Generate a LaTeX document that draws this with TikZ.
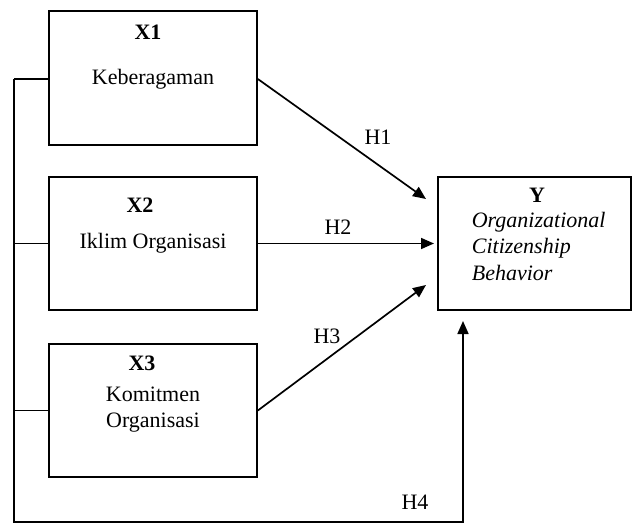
\documentclass[tikz,border=0pt]{standalone}
\usepackage{fontspec}
\setmainfont{Liberation Serif}
\usetikzlibrary{arrows.meta}
\begin{document}
\begin{tikzpicture}[x=1pt,y=-1pt,
  line width=1.7pt,
  varbox/.style={draw, rectangle, minimum width=208pt, minimum height=133pt, inner sep=0pt},
  txt/.style={inner sep=0pt, font=\fontsize{22}{26}\selectfont},
  bold/.style={txt, font=\fontsize{22}{26}\selectfont\bfseries},
  harrow/.style={-{Triangle[length=13pt,width=11pt]}}
]
\useasboundingbox (0,0) rectangle (633,523);
% boxes
\node[varbox, minimum height=134pt] (x1) at (153,78) {};
\node[varbox] (x2) at (153,243.5) {};
\node[varbox] (x3) at (153,410.5) {};
\node[varbox, minimum width=193pt] (y) at (534.5,243.5) {};
% texts
\node[bold] (x1t) at (148,32) {X1};
\node[txt] (x1n) at (153,79) {Keberagaman};
\node[bold] (x2t) at (140,205) {X2};
\node[txt] (x2n) at (153,243) {Iklim Organisasi};
\node[bold] (x3t) at (142,363) {X3};
\node[txt, align=center] (x3n) at (153,410) {Komitmen\\Organisasi};
\node[bold] (yt) at (537,195) {Y};
\node[txt, align=left, anchor=west, font=\fontsize{22}{26.5}\selectfont\itshape] (yn) at (471,246) {Organizational\\Citizenship\\Behavior};
% arrow end points
\coordinate (e1) at (426,199);
\coordinate (e2) at (434,243.5);
\coordinate (e3) at (426,285);
\coordinate (e4) at (463,321);
\coordinate (lt) at (14,79);
\coordinate (lm) at (14,243.5);
\coordinate (lb) at (14,410.5);
\coordinate (c1) at (14,522);
\coordinate (c2) at (463,522);
% connectors
\draw[harrow] (x1.east |- x1n) -- (e1);
\draw[harrow] (x2.east) -- (e2);
\draw[harrow] (x3.east) -- (e3);
\draw (x1.west |- lt) -- (lt);
\draw (x2.west) -- (lm);
\draw (x3.west) -- (lb);
\draw[harrow] (lt) -- (c1) -- (c2) -- (e4);
% labels
\node[txt] (h1) at (378,137) {H1};
\node[txt] (h2) at (338,227) {H2};
\node[txt] (h3) at (327,336) {H3};
\node[txt] (h4) at (415,502) {H4};
\end{tikzpicture}
\end{document}
